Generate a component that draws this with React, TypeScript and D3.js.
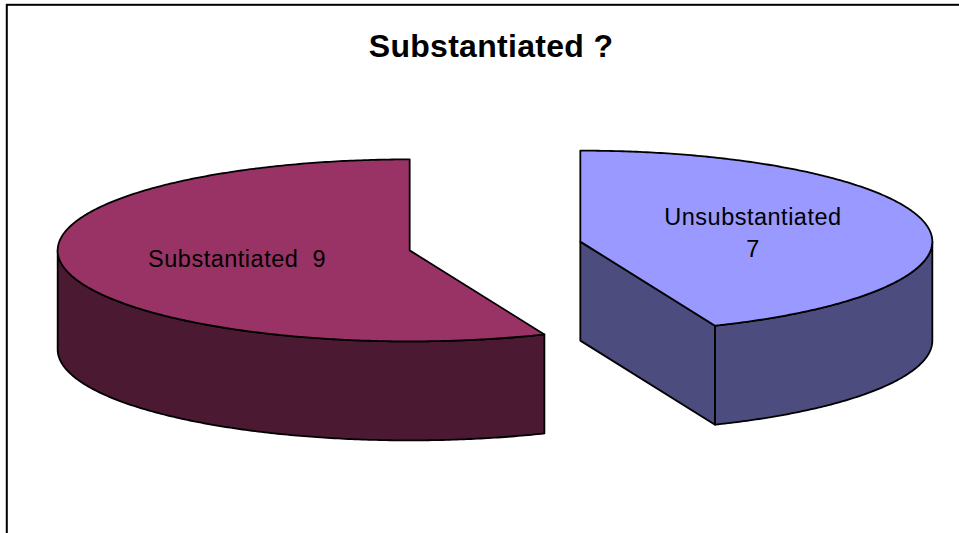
import React, { useEffect, useRef } from 'react';
import * as d3 from 'd3';

// chart data
const categories = ['Substantiated', 'Unsubstantiated'];
const values = [9, 7];
const wrapLabel = [false, true]; // Excel wrapped the second label onto two lines
const topColors = ['#993366', '#9999FF'];
const sideColors = ['#4C1933', '#4C4C7F'];
const title = 'Substantiated ?';

const App = () => {
  const svgRef = useRef<SVGSVGElement>(null);

  useEffect(() => {
    const svg = d3.select(svgRef.current);
    svg.selectAll('*').remove();

    const width = 959;
    const height = 533;

    // 3D pie geometry (ellipse seen from above at an angle)
    const cx = 495;
    const cy = 246;
    const rx = 352;
    const ry = 91;
    const k = ry / rx;
    const depth = 99;
    const explode = 87;

    // chart area frame
    svg.append('rect')
      .attr('x', 6.8)
      .attr('y', 4.8)
      .attr('width', width + 20)
      .attr('height', height + 20)
      .attr('fill', 'white')
      .attr('stroke', 'black')
      .attr('stroke-width', 2);

    svg.append('text')
      .attr('x', 491)
      .attr('y', 57)
      .attr('text-anchor', 'middle')
      .attr('font-family', 'Liberation Sans, Arial, sans-serif')
      .attr('font-weight', 'bold')
      .attr('font-size', 32)
      .attr('letter-spacing', 0.3)
      .text(title);

    // first slice goes counterclockwise from 12 o'clock, as in the original
    const pie = d3.pie<number>().sort(null).startAngle(2 * Math.PI).endAngle(0);
    const arcs = pie(values);

    const line = d3.line();
    const pt = (c: [number, number], a: number, dy = 0): [number, number] =>
      [c[0] + rx * Math.sin(a), c[1] - ry * Math.cos(a) + dy];

    const sample = (a0: number, a1: number) => {
      const n = Math.max(2, Math.ceil(Math.abs(a1 - a0) / 0.01));
      return d3.range(n + 1).map(i => a0 + (a1 - a0) * i / n);
    };

    arcs.forEach((d, i) => {
      const a0 = Math.min(d.startAngle, d.endAngle);
      const a1 = Math.max(d.startAngle, d.endAngle);
      const m = (a0 + a1) / 2;
      const c: [number, number] = [cx + explode * Math.sin(m), cy - explode * k * Math.cos(m)];
      const g = svg.append('g');

      // radial cut faces that turn toward the viewer
      [[a0, a0 - Math.PI / 2], [a1, a1 + Math.PI / 2]].forEach(([a, n]) => {
        if (-Math.cos(n) > 0.01) {
          const p = pt(c, a);
          const face: [number, number][] = [c, p, [p[0], p[1] + depth], [c[0], c[1] + depth]];
          g.append('path')
            .attr('d', line(face) + 'Z')
            .attr('fill', sideColors[i])
            .attr('stroke', 'black')
            .attr('stroke-width', 1.8)
            .attr('stroke-linejoin', 'round');
        }
      });

      // front part of the outer wall
      const w0 = Math.max(a0, Math.PI / 2);
      const w1 = Math.min(a1, 3 * Math.PI / 2);
      if (w1 > w0) {
        const angles = sample(w0, w1);
        const wall = [
          ...angles.map(a => pt(c, a)),
          ...angles.slice().reverse().map(a => pt(c, a, depth)),
        ];
        g.append('path')
          .attr('d', line(wall) + 'Z')
          .attr('fill', sideColors[i])
          .attr('stroke', 'black')
          .attr('stroke-width', 1.8)
          .attr('stroke-linejoin', 'round');
      }

      // top face
      const top = [c, ...sample(a0, a1).map(a => pt(c, a))];
      g.append('path')
        .attr('d', line(top) + 'Z')
        .attr('fill', topColors[i])
        .attr('stroke', 'black')
        .attr('stroke-width', 1.8)
        .attr('stroke-linejoin', 'round');

      // data label halfway along the mid angle
      const lx = c[0] + 0.5 * rx * Math.sin(m);
      const ly = c[1] - 0.5 * ry * Math.cos(m);
      const lines = wrapLabel[i]
        ? [categories[i], String(values[i])]
        : [`${categories[i]}  ${values[i]}`];
      const lh = 32;
      const label = g.append('text')
        .attr('text-anchor', 'middle')
        .attr('font-family', 'Liberation Sans, Arial, sans-serif')
        .attr('font-size', 23.5)
        .attr('letter-spacing', 0.5)
        .style('white-space', 'pre')
        .attr('fill', 'black');
      lines.forEach((t, j) => {
        label.append('tspan')
          .attr('x', lx)
          .attr('y', ly + 8 + (j - (lines.length - 1) / 2) * lh)
          .text(t);
      });
    });
  }, []);

  return (
    <svg
      ref={svgRef}
      width={959}
      height={533}
      style={{ position: 'absolute', left: 0, top: 0, background: 'white' }}
    />
  );
};

export default App;
